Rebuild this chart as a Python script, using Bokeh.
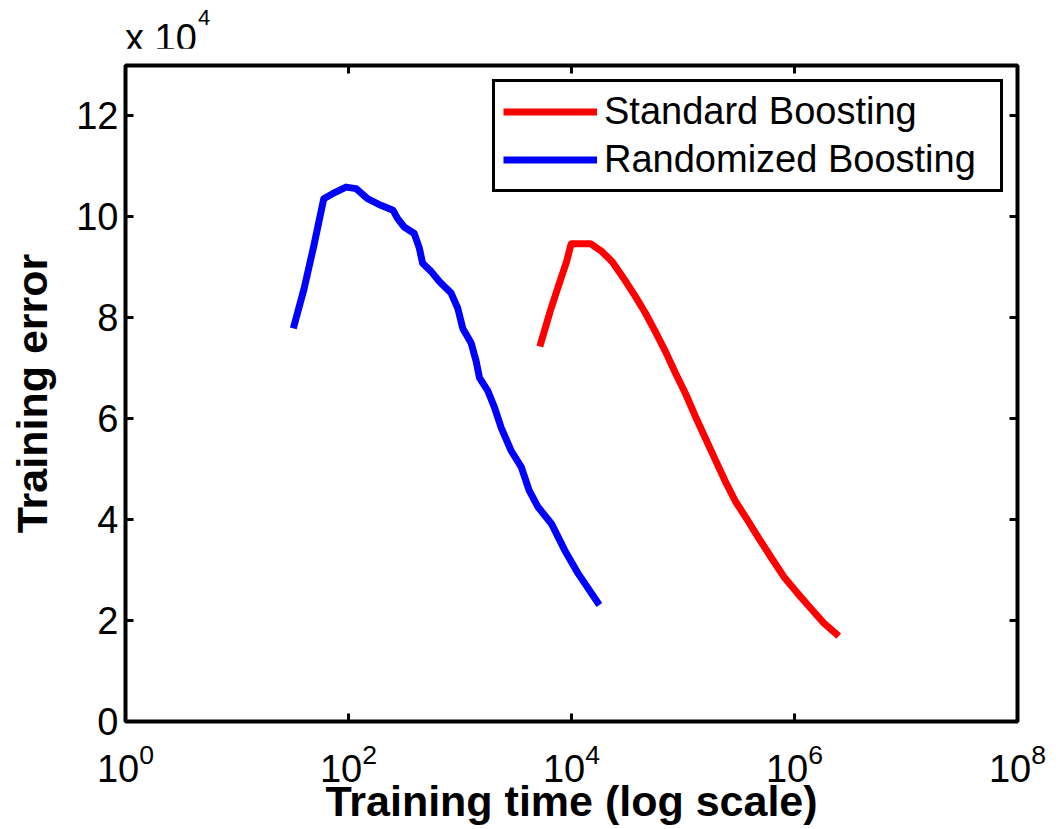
from bokeh.plotting import figure
from bokeh.models import (LogAxis, LinearAxis, FixedTicker, CustomJSTickFormatter,
                          Legend, LegendItem, Range1d, Div)
from bokeh.layouts import column
from bokeh.embed import file_html
from bokeh.resources import INLINE

# ---------------- data ----------------
std_time = [5200, 6480, 7960, 9020, 9940, 14800, 18800, 23200, 29400, 37500,
            46100, 56600, 69700, 85700, 105200, 129500, 159200, 195500, 240500,
            295800, 376700, 478600, 609300, 801700, 1057000, 1390000, 1832000,
            2495000]
std_error = [74300, 81500, 87500, 91100, 94700, 94700, 93100, 91100, 87800, 84200,
             80900, 77200, 73300, 69000, 65000, 60400, 56100, 51800, 47500,
             43600, 40000, 36300, 32700, 28700, 25500, 22500, 19500, 16900]

rnd_time = [32, 40, 49, 60, 72, 95, 117, 148, 195, 251, 275, 316, 389, 432, 462,
            550, 653, 832, 955, 1059, 1259, 1396, 1496, 1778, 2042, 2344, 2884,
            3548, 4169, 5012, 6607, 8710, 11482, 17783]
rnd_error = [77900, 85800, 94400, 103600, 104600, 105900, 105600, 103600, 102300,
             101300, 99700, 98000, 96700, 93800, 90800, 89200, 87200, 84900, 81900,
             77900, 75000, 71400, 68100, 65500, 62200, 58200, 53600, 50400, 45800,
             42500, 39200, 33900, 29300, 23100]

x_ticks = [1, 1e2, 1e4, 1e6, 1e8]
y_ticks = [0, 20000, 40000, 60000, 80000, 100000, 120000]
series_labels = ["Standard Boosting", "Randomized Boosting"]
series_colors = ["#ff0000", "#0000ff"]
x_label = "Training time (log scale)"
y_label = "Training error"
multiplier_base = "x 10"
multiplier_exp = "4"

FONT = "Liberation Sans"

p = figure(width=1059, height=780, x_axis_type="log",
           x_range=Range1d(1, 1e8), y_range=Range1d(0, 130000),
           output_backend="svg", toolbar_location=None,
           min_border_left=125, min_border_right=42,
           min_border_top=17, min_border_bottom=107)
p.grid.visible = False
p.outline_line_color = "black"
p.outline_line_alpha = 1
p.outline_line_width = 4
p.background_fill_color = "white"
p.border_fill_color = "white"


def style_axis(ax, size="38px"):
    ax.axis_line_color = None
    ax.major_tick_in = 8
    ax.major_tick_out = 0
    ax.major_tick_line_width = 3
    ax.major_tick_line_color = "black"
    ax.minor_tick_in = 0
    ax.minor_tick_out = 0
    ax.minor_tick_line_color = None
    ax.major_label_text_font = FONT
    ax.major_label_text_color = "black"
    ax.major_label_text_font_size = size


xa = p.xaxis[0]
xa.ticker = FixedTicker(ticks=x_ticks)
style_axis(xa)
xa.major_label_standoff = 21
xa.axis_label = x_label
xa.axis_label_text_font = FONT
xa.axis_label_text_font_style = "bold"
xa.axis_label_text_font_size = "43px"
xa.axis_label_text_color = "black"
xa.axis_label_standoff = -8

ya = p.yaxis[0]
ya.ticker = FixedTicker(ticks=y_ticks)
ya.formatter = CustomJSTickFormatter(code="return (tick / 10000).toFixed(0);")
style_axis(ya)
ya.major_label_standoff = 7
ya.axis_label = y_label
ya.axis_label_text_font = FONT
ya.axis_label_text_font_style = "bold"
ya.axis_label_text_font_size = "43px"
ya.axis_label_text_color = "black"
ya.axis_label_standoff = 17

blank = CustomJSTickFormatter(code="return '';")
top = LogAxis(ticker=FixedTicker(ticks=x_ticks), formatter=blank)
style_axis(top, "1px")
top.major_label_standoff = 0
p.add_layout(top, "above")
right = LinearAxis(ticker=FixedTicker(ticks=y_ticks), formatter=blank)
style_axis(right, "1px")
right.major_label_standoff = 0
p.add_layout(right, "right")

r_std = p.line(std_time, std_error, line_color=series_colors[0], line_width=7,
               line_join="round")
r_rnd = p.line(rnd_time, rnd_error, line_color=series_colors[1], line_width=7,
               line_join="round")

legend = Legend(items=[LegendItem(label=series_labels[0], renderers=[r_std]),
                       LegendItem(label=series_labels[1], renderers=[r_rnd])],
                location=(367, 529))
legend.label_text_font = FONT
legend.label_text_font_size = "38px"
legend.label_text_color = "black"
legend.glyph_width = 94
legend.glyph_height = 43
legend.label_height = 43
legend.label_width = 388
legend.label_standoff = 7
legend.spacing = 5
legend.padding = 8
legend.margin = 0
legend.border_line_color = "black"
legend.border_line_alpha = 1
legend.border_line_width = 3
legend.background_fill_color = "white"
legend.background_fill_alpha = 1
p.add_layout(legend, "center")

header_html = (
    '<div style="position:relative;width:1059px;height:48px;'
    "font-family:'Liberation Sans',Arial,sans-serif;color:black;\">"
    '<span style="position:absolute;left:125px;top:19px;font-size:38px;line-height:38px;'
    'white-space:nowrap;">' + multiplier_base + '</span>'
    '<span style="position:absolute;left:198px;top:7px;font-size:22px;line-height:22px;">'
    + multiplier_exp + '</span></div>'
)
header = Div(text=header_html, width=1059, height=48, margin=0,
             styles={"overflow": "visible"})

layout = column(header, p, spacing=0)

open("out.html", "w").write(file_html(layout, INLINE))
